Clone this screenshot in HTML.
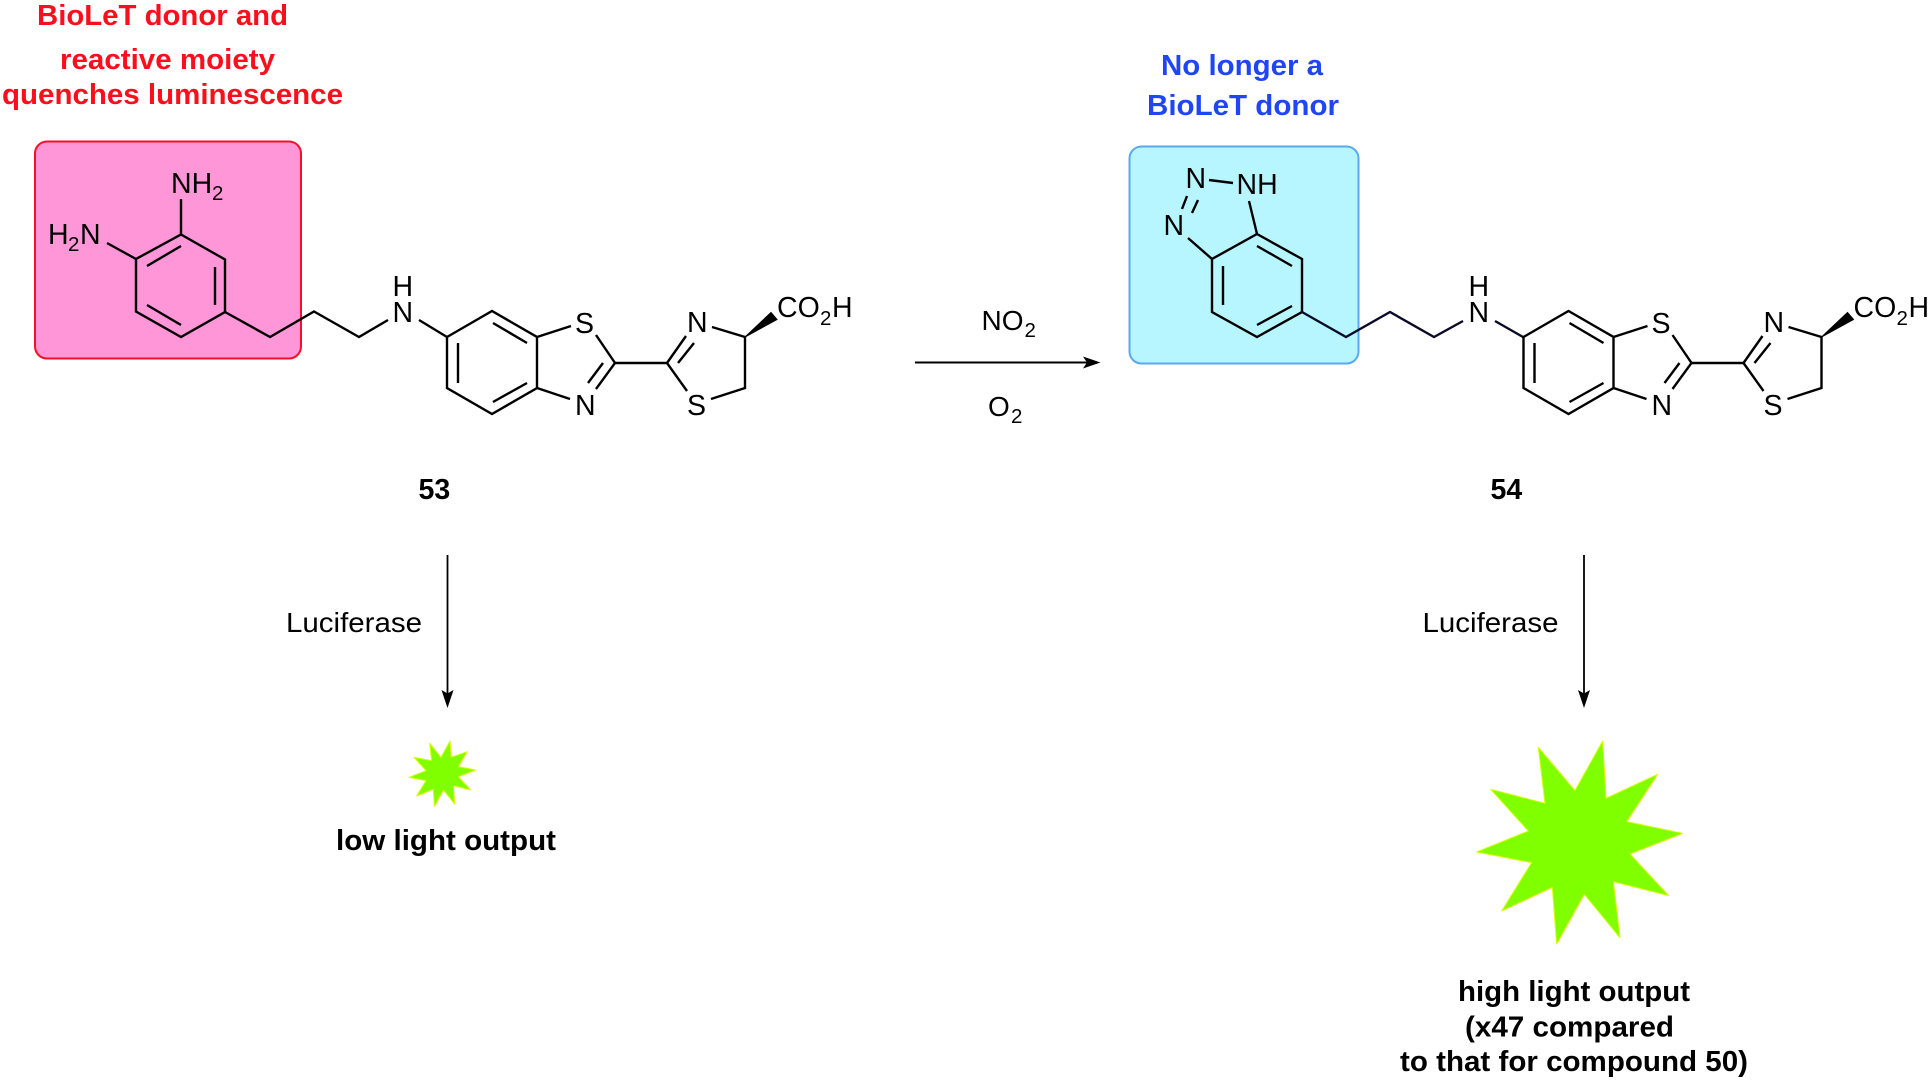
<!DOCTYPE html>
<html><head><meta charset="utf-8"><style>
html,body{margin:0;padding:0;background:#fff}
svg{display:block}
text{font-family:"Liberation Sans",Arial,sans-serif;fill:#000}
.l{font-size:28.5px}
.m{font-size:28px}
.s{font-size:20.5px}
</style></head><body>
<svg width="1931" height="1081" viewBox="0 0 1931 1081" xmlns="http://www.w3.org/2000/svg">
<!-- boxes -->
<rect x="35" y="141.5" width="266" height="217" rx="12" fill="#ff96d8" stroke="#f5102a" stroke-width="2"/>
<rect x="1129.5" y="146.5" width="229" height="217" rx="12" fill="#b8f6ff" stroke="#5aa9ee" stroke-width="2"/>

<!-- headings -->
<text x="37" y="25" textLength="251" lengthAdjust="spacingAndGlyphs" font-weight="bold" font-size="28.5" style="fill:#fb0f1c">BioLeT donor and</text>
<text x="60" y="69" textLength="215" lengthAdjust="spacingAndGlyphs" font-weight="bold" font-size="28.5" style="fill:#fb0f1c">reactive moiety</text>
<text x="2" y="104" textLength="341" lengthAdjust="spacingAndGlyphs" font-weight="bold" font-size="28.5" style="fill:#fb0f1c">quenches luminescence</text>
<text x="1161" y="75" textLength="162" lengthAdjust="spacingAndGlyphs" font-weight="bold" font-size="28.5" style="fill:#1f45f5">No longer a</text>
<text x="1147" y="115" textLength="192" lengthAdjust="spacingAndGlyphs" font-weight="bold" font-size="28.5" style="fill:#1f45f5">BioLeT donor</text>

<!-- left aryl -->
<g fill="none" stroke="#000" stroke-width="2.4" stroke-linecap="butt" stroke-linejoin="miter">
<path d="M181 234.5L225 259.5V312L181 337L136 311.5V259ZM147 266L181 246M215 267V305M147 305L181 325"/>
<path d="M181 234.5V199M136 259L107 243"/>
<path d="M225 312L270 337L314 311.5L359 337L388 320M419 320L447 337"/>
<!-- right aryl -->
<path d="M1257 234L1302 259V312L1257 337L1212 312V259ZM1257 246L1292 266M1223 266V305M1257 325L1292 306"/>
<path d="M1249 201L1257 234M1188 238L1212 259M1187 196L1182 209M1198 200L1192 213M1209 180L1233 183"/>
<path d="M1302 312L1346 337L1390 312L1434 337L1463 321M1495 321L1523 337" stroke="#0a0a2a"/>
</g>

<!-- luciferin left -->
<g>
<g fill="none" stroke="#000" stroke-width="2.4">
<path d="M447 337L492 311L537 337V388L492 414L447 388ZM458 343V383M493 323L527 343M493 402L527 383"/>
<path d="M537 337L571 326M596 335L615 363L596 389M603 363L588 383M537 388L570 399"/>
<path d="M615 363H667M667 363L686 336M678 363L694 343M667 363L687 391M711 399L745 388V337L712 327"/>
</g>
<path d="M745 337L771 312.5L777 319.5Z" fill="#000" stroke="#000" stroke-width="1"/>
<text class="l" x="575" y="333">S</text>
<text class="l" x="575" y="415">N</text>
<text class="l" x="687" y="332">N</text>
<text class="l" x="687" y="415">S</text>
<text class="l" x="777" y="317">CO</text>
<text class="s" x="820" y="325">2</text>
<text class="l" x="832" y="317">H</text>
</g>
<!-- luciferin right -->
<g transform="translate(1076.5,0)">
<g fill="none" stroke="#000" stroke-width="2.4">
<path d="M447 337L492 311L537 337V388L492 414L447 388ZM458 343V383M493 323L527 343M493 402L527 383"/>
<path d="M537 337L571 326M596 335L615 363L596 389M603 363L588 383M537 388L570 399"/>
<path d="M615 363H667M667 363L686 336M678 363L694 343M667 363L687 391M711 399L745 388V337L712 327"/>
</g>
<path d="M745 337L771 312.5L777 319.5Z" fill="#000" stroke="#000" stroke-width="1"/>
<text class="l" x="575" y="333">S</text>
<text class="l" x="575" y="415">N</text>
<text class="l" x="687" y="332">N</text>
<text class="l" x="687" y="415">S</text>
<text class="l" x="777" y="317">CO</text>
<text class="s" x="820" y="325">2</text>
<text class="l" x="832" y="317">H</text>
</g>

<!-- atom labels left -->
<text class="l" x="171" y="193">NH</text>
<text class="s" x="212" y="200">2</text>
<text class="l" x="48" y="244">H</text>
<text class="s" x="68" y="251">2</text>
<text class="l" x="80" y="244">N</text>
<text class="l" x="392.5" y="296">H</text>
<text class="l" x="392.5" y="322">N</text>
<!-- atom labels right -->
<text class="l" x="1185.5" y="188">N</text>
<text class="l" x="1236.5" y="194">NH</text>
<text class="l" x="1163.5" y="235">N</text>
<text class="l" x="1468.5" y="296">H</text>
<text class="l" x="1468.5" y="322">N</text>

<!-- reaction arrow -->
<path d="M915 362.5H1090" stroke="#000" stroke-width="2" fill="none"/>
<path d="M1100.5 362.5L1083 356.5L1087 362.5L1083 368.5Z" fill="#000"/>
<text class="m" x="981.5" y="330">NO</text>
<text class="s" x="1024.5" y="337">2</text>
<text class="m" x="988" y="416">O</text>
<text class="s" x="1011" y="423">2</text>

<!-- compound numbers -->
<text x="418.5" y="499" font-size="28.5" font-weight="bold">53</text>
<text x="1490.5" y="499" font-size="28.5" font-weight="bold">54</text>

<!-- vertical arrows -->
<path d="M447.5 555V696" stroke="#000" stroke-width="1.8" fill="none"/>
<path d="M447.5 708L441.5 690L447.5 693.5L453.5 690Z" fill="#000"/>
<path d="M1584 555V696" stroke="#000" stroke-width="1.8" fill="none"/>
<path d="M1584 708L1578 690L1584 693.5L1590 690Z" fill="#000"/>
<text class="m" x="286" y="632" textLength="136" lengthAdjust="spacingAndGlyphs">Luciferase</text>
<text class="m" x="1422.5" y="632" textLength="136" lengthAdjust="spacingAndGlyphs">Luciferase</text>

<!-- stars -->
<g transform="translate(380,720) scale(.3333)">
<polygon points="210,63 213,112 262,95 235,140 287,150 235,170 272,210 220,197 224,252 190,210 163,260 160,208 110,228 138,182 87,172 138,152 102,112 155,122 149,70 183,112" fill="#80ff00" stroke="#d8ff00" stroke-width="3" stroke-linejoin="round"/>
</g>
<g transform="translate(1450,720) scale(.3333)">
<polygon points="458,63 468,235 623,163 530,305 698,340 540,402 656,527 490,485 510,653 403,523 320,672 307,502 155,573 245,428 80,396 235,333 122,208 285,250 265,82 375,212" fill="#80ff00" stroke="#d8ff00" stroke-width="3" stroke-linejoin="round"/>
</g>

<!-- output labels -->
<text x="336" y="850" textLength="220" lengthAdjust="spacingAndGlyphs" font-weight="bold" font-size="28.5">low light output</text>
<text x="1458" y="1001" textLength="232" lengthAdjust="spacingAndGlyphs" font-weight="bold" font-size="28.5">high light output</text>
<text x="1465" y="1036.5" textLength="209" lengthAdjust="spacingAndGlyphs" font-weight="bold" font-size="28.5">(x47 compared</text>
<text x="1400" y="1071" textLength="348" lengthAdjust="spacingAndGlyphs" font-weight="bold" font-size="28.5">to that for compound 50)</text>
</svg>
</body></html>
